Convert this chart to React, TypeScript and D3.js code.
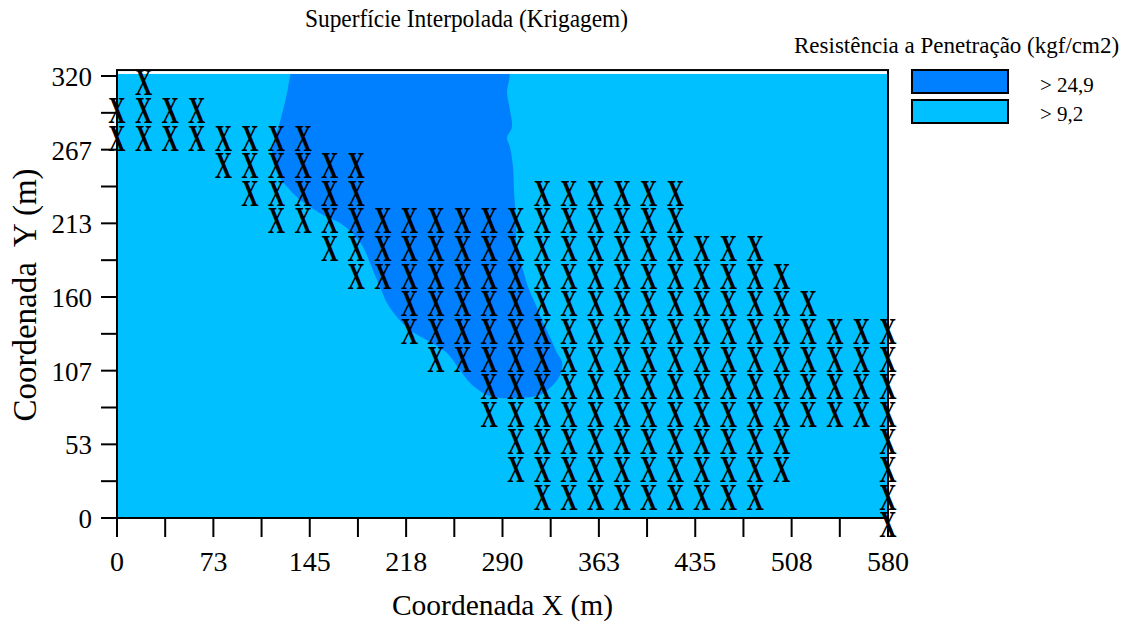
import React from 'react';
import * as d3 from 'd3';

// ---- data ----
const chartTitle = 'Superfície Interpolada (Krigagem)';
const legendTitle = 'Resistência a Penetração (kgf/cm2)';
const xTitle = 'Coordenada X (m)';
const yTitle = 'Coordenada  Y (m)';

const xTickValues = [0, 72.5, 145, 217.5, 290, 362.5, 435, 507.5, 580];
const xTickLabels = ['0', '73', '145', '218', '290', '363', '435', '508', '580'];
const yTickValues = [0, 53.333, 106.667, 160, 213.333, 266.667, 320];
const yTickLabels = ['0', '53', '107', '160', '213', '267', '320'];

const legendLabels = ['> 24,9', '> 9,2'];
const legendColors = ['#0080ff', '#00c0ff'];

// sampled points, rows of [y, xStart, xEnd] every 20 m
const sampleRows: [number, number, number][] = [
  [320, 20, 20],
  [300, 0, 60],
  [280, 0, 140],
  [260, 80, 180],
  [240, 100, 180],
  [240, 320, 420],
  [220, 120, 420],
  [200, 160, 480],
  [180, 180, 500],
  [160, 220, 520],
  [140, 220, 580],
  [120, 240, 580],
  [100, 280, 580],
  [80, 280, 580],
  [60, 300, 500],
  [60, 580, 580],
  [40, 300, 500],
  [40, 580, 580],
  [20, 320, 480],
  [20, 580, 580],
  [0, 580, 580],
];
const sampleStep = 20;

// boundary of the "> 24,9" zone (x m, y m)
const highZone: [number, number][] = [
  [132.4, 326], [130.1, 319.3], [127.9, 307.7], [124.9, 295.4], [121.9, 284.5],
  [118.1, 273.7], [116.6, 264.3], [118.1, 255.6], [122.6, 246.2], [130.1, 237.5],
  [137.7, 230.2], [145.2, 225.2], [158.0, 217.9], [167.8, 213.6], [176.8, 206.3],
  [185.1, 196.2], [190.3, 184.6], [195.6, 172.3], [199.4, 163.6], [203.1, 155.7],
  [210.6, 145.5], [220.4, 136.1], [235.5, 127.4], [248.2, 119.5], [258.0, 107.1],
  [265.6, 97.7], [278.3, 89.0], [288.1, 86.9], [303.2, 86.9], [318.2, 89.0],
  [327.2, 95.6], [333.3, 103.5], [334.8, 112.9], [331.0, 119.5], [325.7, 131.0],
  [319.7, 143.3], [314.4, 155.7], [309.2, 167.2], [305.4, 179.5], [300.9, 191.9],
  [300.2, 215.7], [298.7, 235.3], [297.9, 254.1], [295.6, 268.6], [293.4, 275.1],
  [297.1, 283.1], [295.6, 295.4], [293.4, 307.7], [293.4, 326],
];

const surfaceTop = 321.5;
const frameTop = 324.3;

export default function App() {
  const W = 1132, H = 626;
  const x = d3.scaleLinear().domain([0, 580]).range([117, 888]);
  const y = d3.scaleLinear().domain([0, 320]).range([518, 76]);

  const xMinor = d3.range(0, xTickValues.length - 1).map(i => (xTickValues[i] + xTickValues[i + 1]) / 2);
  const yMinor = d3.range(0, yTickValues.length - 1).map(i => (yTickValues[i] + yTickValues[i + 1]) / 2);

  const points: [number, number][] = [];
  sampleRows.forEach(([yy, x0, x1]) => {
    for (let v = x0; v <= x1 + 0.001; v += sampleStep) points.push([v, yy]);
  });

  const zonePath = d3.line<[number, number]>()
    .x(d => x(d[0]))
    .y(d => y(d[1]))
    .curve(d3.curveCatmullRomClosed.alpha(0.5))(highZone) || '';

  const serif = '"Liberation Serif", "Times New Roman", serif';
  const mSize = 24, mSy = 1.55;

  return (
    <svg width={W} height={H} style={{ position: 'absolute', left: 0, top: 0, background: '#fff' }}>
      <defs>
        <clipPath id="surf">
          <rect x={x(0)} y={y(surfaceTop)} width={x(580) - x(0)} height={y(0) - y(surfaceTop)} />
        </clipPath>
      </defs>
      {/* title */}
      <text x={466.5} y={27} textAnchor="middle" fontFamily={serif} fontSize={25} textLength={323} lengthAdjust="spacingAndGlyphs">{chartTitle}</text>

      {/* surface */}
      <rect x={x(0)} y={y(surfaceTop)} width={x(580) - x(0)} height={y(0) - y(surfaceTop)} fill={legendColors[1]} />
      <path d={zonePath} fill={legendColors[0]} clipPath="url(#surf)" />

      {/* frame */}
      <rect x={x(0)} y={y(frameTop)} width={x(580) - x(0)} height={y(0) - y(frameTop)} fill="none" stroke="#000" strokeWidth={2} />

      {/* x axis ticks */}
      {[...xTickValues, ...xMinor].map((v, i) => (
        <line key={'xt' + i} x1={x(v)} x2={x(v)} y1={y(0)} y2={y(0) + 19} stroke="#000" strokeWidth={2} />
      ))}
      {xTickValues.map((v, i) => (
        <text key={'xl' + i} x={x(v)} y={571} textAnchor="middle" fontFamily={serif} fontSize={28}>{xTickLabels[i]}</text>
      ))}
      {/* y axis ticks */}
      {[...yTickValues, ...yMinor].map((v, i) => (
        <line key={'yt' + i} x1={x(0) - 16} x2={x(0)} y1={y(v)} y2={y(v)} stroke="#000" strokeWidth={2} />
      ))}
      {yTickValues.map((v, i) => (
        <text key={'yl' + i} x={92} y={y(v) + 10} textAnchor="end" fontFamily={serif} fontSize={27}>{yTickLabels[i]}</text>
      ))}

      {/* axis titles */}
      <text x={502.5} y={615} textAnchor="middle" fontFamily={serif} fontSize={29.5}>{xTitle}</text>
      <text transform={`translate(36,295) rotate(-90)`} textAnchor="middle" fontFamily={serif} fontSize={33} style={{ whiteSpace: 'pre' }}>{yTitle}</text>

      {/* legend */}
      <text x={794} y={53} fontFamily={serif} fontSize={23}>{legendTitle}</text>
      {legendLabels.map((lab, i) => (
        <g key={'lg' + i}>
          <rect x={912} y={70 + i * 30} width={96} height={23} fill={legendColors[i]} stroke="#000" strokeWidth={2} />
          <text x={1040} y={92 + i * 29} fontFamily={serif} fontSize={21}>{lab}</text>
        </g>
      ))}

      {/* sample markers */}
      {points.map(([px, py], i) => (
        <text key={'m' + i} transform={`translate(${x(px)},${y(py) + 7}) scale(1,${mSy})`} y={(mSize * 0.662) / 2}
          textAnchor="middle" fontFamily={serif} fontSize={mSize} fontWeight="bold" fill="#000">X</text>
      ))}
    </svg>
  );
}
